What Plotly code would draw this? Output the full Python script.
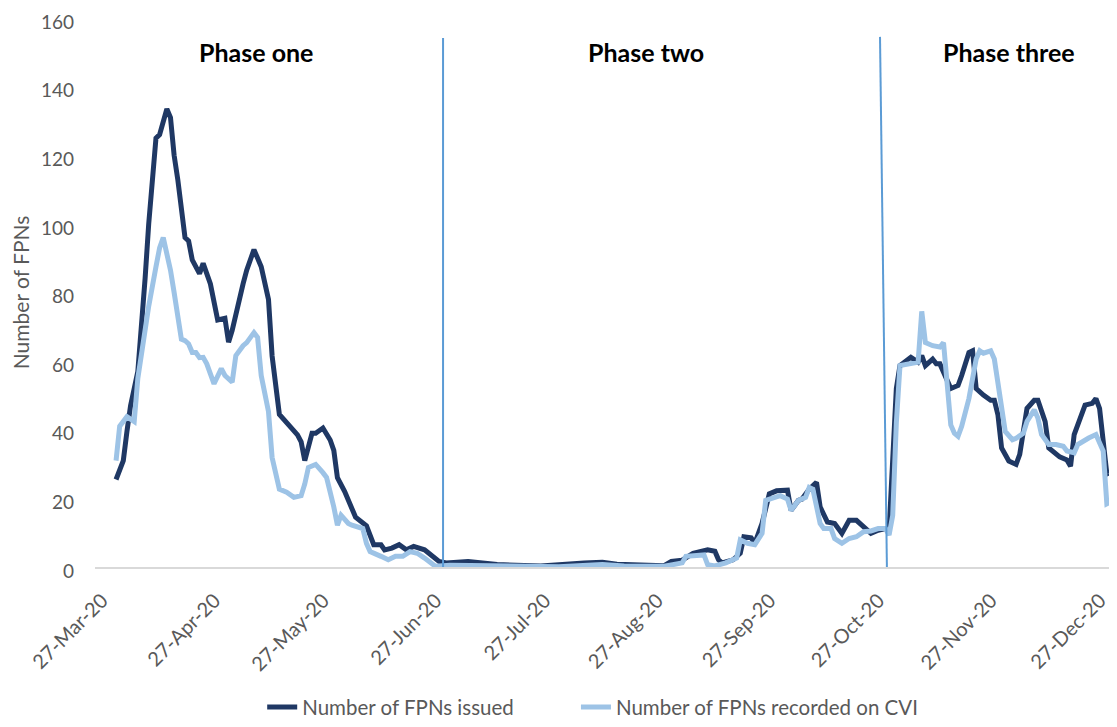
import pandas as pd
import plotly.graph_objects as go

# day offsets from 27-Mar-20
issued_days = [0, 2, 3, 4, 6, 7, 8, 9, 10, 11,
               12, 14, 15, 16, 17, 18, 19, 20, 21, 23,
               24, 25, 26, 28, 30, 31, 32, 35, 36, 38,
               40, 42, 43, 45, 48, 50, 51, 52, 54, 55,
               57, 59, 60, 61, 63, 65, 66, 69, 70, 71,
               73, 74, 76, 78, 80, 82, 85, 87, 89, 91,
               97, 105, 117, 129, 134, 138, 143, 151, 153, 156,
               159, 163, 165, 166, 167, 170, 172, 173, 175, 176,
               178, 180, 182, 185, 186, 188, 189, 191, 193, 194,
               196, 198, 200, 202, 204, 206, 208, 210, 212, 213,
               214, 215, 216, 219, 221, 222, 223, 225, 226, 227,
               230, 232, 233, 235, 236, 237, 239, 241, 242, 243,
               244, 246, 248, 249, 251, 253, 254, 256, 257, 259,
               260, 262, 263, 264, 266, 267, 269, 270, 271, 272,
               273, 275, 276, 277]
issued_vals = [25.5, 31, 39.5, 47, 57, 69, 84, 100, 112, 125,
               126, 133.5, 131, 120, 113, 104, 96, 95, 89.5, 85.5,
               88.5, 85.5, 82.5, 72, 72.5, 65.5, 69, 82.5, 86.5, 92.5,
               87.5, 78, 61.5, 44.5, 41, 38.5, 36.5, 31, 39, 39,
               40.5, 37, 34, 26, 22, 17.5, 14.5, 12, 9, 6.5,
               6.5, 5, 5.5, 6.5, 5, 6, 5, 3.5, 1.6, 1.2,
               1.6, 0.7, 0.3, 1.2, 1.4, 0.8, 0.6, 0.4, 1.6, 2,
               4, 5, 4.6, 2.1, 1.2, 2.1, 4, 8.8, 8.5, 6.9,
               12.7, 21.3, 22.2, 22.4, 16.5, 19.4, 19.8, 22.7, 24.7, 17.5,
               13.1, 12.7, 9.8, 13.6, 13.6, 11.7, 9.8, 10.7, 11.2, 10.5,
               30, 52, 58.7, 61.1, 59.7, 61.6, 58.7, 60.6, 59.2, 59.2,
               52, 52.9, 55.8, 62.5, 63, 52, 50.1, 48.6, 48.6, 44.3,
               34.7, 30.9, 29.9, 32.8, 46.2, 48.6, 48.6, 42.4, 34.7, 32.8,
               32.1, 31.2, 29.4, 38.6, 44.3, 47.2, 47.7, 49.1, 46.2, 35.7,
               27.1, 28, 38, 48]

cvi_days = [0, 1, 3, 5, 6, 8, 9, 11, 12, 13,
            15, 16, 18, 19, 20, 21, 22, 23, 24, 25,
            26, 27, 29, 30, 32, 33, 35, 36, 38, 39,
            40, 42, 43, 45, 47, 49, 51, 52, 53, 55,
            57, 58, 60, 61, 62, 64, 65, 68, 69, 70,
            73, 75, 77, 79, 81, 83, 85, 87, 88, 92,
            100, 110, 122, 130, 134, 140, 151, 153, 156, 157,
            160, 162, 163, 165, 168, 171, 172, 174, 176, 178,
            179, 181, 183, 185, 186, 188, 190, 191, 192, 194,
            195, 197, 198, 200, 202, 204, 206, 208, 210, 212,
            213, 214, 215, 216, 218, 221, 222, 223, 225, 227,
            228, 229, 230, 231, 232, 233, 235, 237, 238, 239,
            241, 242, 243, 244, 245, 247, 248, 250, 251, 253,
            254, 255, 257, 259, 261, 262, 264, 265, 266, 268,
            270, 272, 273, 274, 275, 276, 277]
cvi_vals = [31, 41, 43.8, 42.4, 55, 70, 76, 87.5, 93, 96,
            86.5, 80, 66.4, 66, 65, 62.5, 62.5, 61, 61.1, 59.2,
            56, 53.4, 57.8, 55.8, 53.9, 61.6, 64.5, 65.4, 68.3, 66.9,
            55.8, 45.3, 31.9, 22.7, 21.8, 20.3, 20.8, 24.2, 29, 29.9,
            27.5, 26.1, 17.5, 12.2, 15.1, 12.7, 12.2, 11.2, 6.9, 4.5,
            3.1, 2.1, 3.1, 3.1, 4.5, 4, 2.6, 0.7, 0.2, 0.5,
            0.3, 0.1, 0.1, 0.5, 0.7, 0.3, 0.2, 0.6, 1.2, 3.1,
            3.2, 3.5, 0.7, 0.3, 1.2, 2.6, 7.9, 6.9, 6.5, 9.8,
            19.4, 20.3, 20.8, 19.8, 16.5, 19.4, 20.3, 23.2, 22.7, 12.7,
            11.2, 11.2, 8.3, 6.9, 8.3, 8.8, 10.3, 10.5, 11.2, 11.2,
            9.3, 15, 42, 58.7, 59.2, 59.7, 74.5, 65.4, 64.5, 64.1,
            65.4, 52.9, 41.4, 39, 38.1, 41, 49.1, 60.6, 63, 62.3,
            63, 60.6, 53.9, 46.2, 39.5, 37.1, 37.5, 39, 42.4, 45.8,
            43.4, 38.6, 35.7, 35.7, 35.2, 33.8, 33.3, 35.7, 36.4, 37.6,
            38.6, 33.8, 18.4, 18.9, 22.2, 23.2, 25]

tick_dates = ["2020-03-27", "2020-04-27", "2020-05-27", "2020-06-27", "2020-07-27",
              "2020-08-27", "2020-09-27", "2020-10-27", "2020-11-27", "2020-12-27"]
phase_labels = ["Phase one", "Phase two", "Phase three"]

assert len(issued_days) == len(issued_vals)
assert len(cvi_days) == len(cvi_vals)

start = pd.Timestamp("2020-03-27")


def to_date(d):
    return start + pd.to_timedelta(d, unit="D")


FONT = "Lato, 'Open Sans', sans-serif"
GREY = "#595959"

fig = go.Figure()
fig.add_trace(go.Scatter(
    x=[to_date(d) for d in issued_days], y=issued_vals,
    mode="lines", name="Number of FPNs issued",
    line=dict(color="#1f3864", width=5), legend="legend",
))
fig.add_trace(go.Scatter(
    x=[to_date(d) for d in cvi_days], y=cvi_vals,
    mode="lines", name="Number of FPNs recorded on CVI",
    line=dict(color="#9dc3e6", width=5), legend="legend2",
))

# phase boundaries
fig.add_shape(type="line", xref="x", yref="y",
              x0=to_date(90.1), x1=to_date(90.1), y0=0, y1=154.2,
              line=dict(color="#5b9bd5", width=2))
fig.add_shape(type="line", xref="x", yref="y",
              x0=to_date(212.4), x1=to_date(210.5), y0=0, y1=154.5,
              line=dict(color="#5b9bd5", width=2))

for label, d in zip(phase_labels, [38.6, 146, 246]):
    fig.add_annotation(x=to_date(d), y=150, xref="x", yref="y", text=label,
                       showarrow=False,
                       font=dict(family=FONT, size=25, color="black", weight="bold"))

legend_style = dict(orientation="h", xanchor="left", y=-0.2554, yanchor="middle",
                    bgcolor="rgba(0,0,0,0)",
                    font=dict(family=FONT, size=20.5, color=GREY))

fig.update_layout(
    width=1117, height=727,
    margin=dict(l=87, r=8, t=10, b=161),
    plot_bgcolor="white", paper_bgcolor="white",
    showlegend=True,
    legend=dict(x=0.1636, **legend_style),
    legend2=dict(x=0.4706, **legend_style),
)
fig.update_xaxes(
    range=[to_date(-5.8), to_date(275.8)],
    tickvals=tick_dates, tickformat="%d-%b-%y", tickangle=-45,
    tickfont=dict(family=FONT, size=20, color=GREY),
    ticklabelshift=-14, ticklabelstandoff=12,
    showgrid=False, zeroline=False,
    showline=True, linecolor="#d9d9d9", linewidth=2,
    ticks="", automargin=False,
)
fig.update_yaxes(
    range=[0, 160], dtick=20,
    tickfont=dict(family=FONT, size=19, color=GREY),
    showgrid=False, zeroline=False, showline=False,
    ticklabelstandoff=20, ticklabelshift=4, ticklabeloverflow="allow", automargin=False,
    title=dict(text="Number of FPNs", font=dict(family=FONT, size=21, color=GREY), standoff=8),
)

fig.write_html("out.html")
